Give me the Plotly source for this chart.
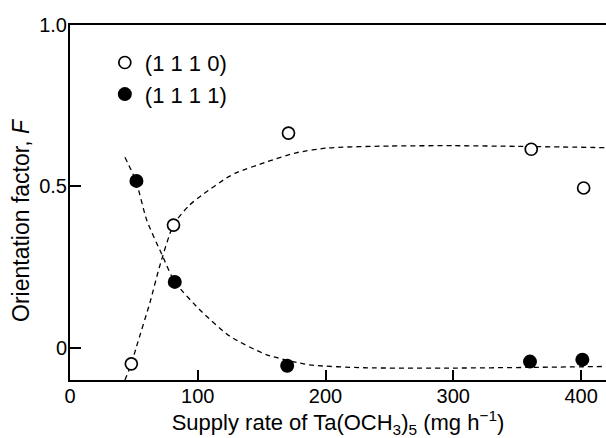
import plotly.graph_objects as go

# Measured orientation factors
supply_1110 = [48, 81, 171, 361, 402]
factor_1110 = [-0.05, 0.38, 0.665, 0.615, 0.495]

supply_1111 = [52, 82, 170, 360, 401]
factor_1111 = [0.517, 0.204, -0.056, -0.043, -0.037]

# Hand-drawn guide curves through each set
guide_1110_x = [43, 48, 52, 62.5, 70, 81, 93, 104, 122.5, 130, 154, 177, 201.5, 250, 300, 350, 419.5]
guide_1110_y = [-0.10, -0.05, 0.003, 0.139, 0.25, 0.381, 0.44, 0.475, 0.526, 0.542, 0.576, 0.604, 0.619, 0.625, 0.626, 0.624, 0.62]

guide_1111_x = [43, 51.6, 60, 72, 82, 103, 125, 154, 187.5, 230, 300, 360, 419.5]
guide_1111_y = [0.59, 0.517, 0.396, 0.288, 0.204, 0.112, 0.036, -0.022, -0.053, -0.062, -0.063, -0.061, -0.058]

x_ticks = [0, 100, 200, 300, 400]
y_ticks = [0, 0.5, 1.0]
y_tick_text = ["0", "0.5", "1.0"]

FONT = "Liberation Sans, Arial, Helvetica, sans-serif"
dash_line = dict(color="black", width=1.3, dash="5px,4px", shape="spline", smoothing=0.6)

fig = go.Figure()

fig.add_trace(go.Scatter(x=guide_1110_x, y=guide_1110_y, mode="lines",
                         line=dash_line, showlegend=False, hoverinfo="skip"))
fig.add_trace(go.Scatter(x=guide_1111_x, y=guide_1111_y, mode="lines",
                         line=dash_line, showlegend=False, hoverinfo="skip"))

fig.add_trace(go.Scatter(
    x=supply_1110, y=factor_1110, mode="markers", name="(1 1 1 0)",
    marker=dict(symbol="circle", size=12, color="white",
                line=dict(color="black", width=1.7)),
    cliponaxis=False,
))
fig.add_trace(go.Scatter(
    x=supply_1111, y=factor_1111, mode="markers", name="(1 1 1 1)",
    marker=dict(symbol="circle", size=14, color="black",
                line=dict(color="black", width=0)),
    cliponaxis=False,
))

fig.update_layout(
    width=606, height=438,
    margin=dict(l=70, r=0, t=25, b=58),
    paper_bgcolor="white", plot_bgcolor="white",
    font=dict(family=FONT, size=20, color="black"),
    showlegend=True,
    legend=dict(x=0.065, y=0.953, xanchor="left", yanchor="top",
                bgcolor="rgba(0,0,0,0)", borderwidth=0,
                font=dict(family=FONT, size=22, color="black"),
                itemsizing="trace"),
    xaxis=dict(
        range=[0, 419.5], tickvals=x_ticks, ticks="inside", ticklen=10,
        tickwidth=1.5, tickcolor="black", showline=True, linecolor="black",
        linewidth=2, mirror=True, showgrid=False, zeroline=False,
        tickfont=dict(family=FONT, size=20), ticklabelstandoff=-3,
        title=dict(text="Supply rate of Ta(OCH<sub>3</sub>)<sub>5</sub> (mg h<sup>\u22121</sup>)",
                   font=dict(family=FONT, size=22), standoff=8),
    ),
    yaxis=dict(
        range=[-0.1, 1.0], tickvals=y_ticks, ticktext=y_tick_text,
        ticks="inside", ticklen=11, tickwidth=1.5, tickcolor="black",
        showline=True, linecolor="black", linewidth=2, mirror=False,
        showgrid=False, zeroline=False, ticklabelstandoff=-3,
        tickfont=dict(family=FONT, size=20),
    ),
    annotations=[dict(
        text="Orientation factor, <i>F</i>", textangle=-90,
        xref="paper", yref="paper", x=(21 - 70) / 536, y=(438 - 58 - 220) / 355,
        xanchor="center", yanchor="middle", showarrow=False,
        font=dict(family=FONT, size=23, color="black"),
    )],
)

fig.write_html("out.html")
